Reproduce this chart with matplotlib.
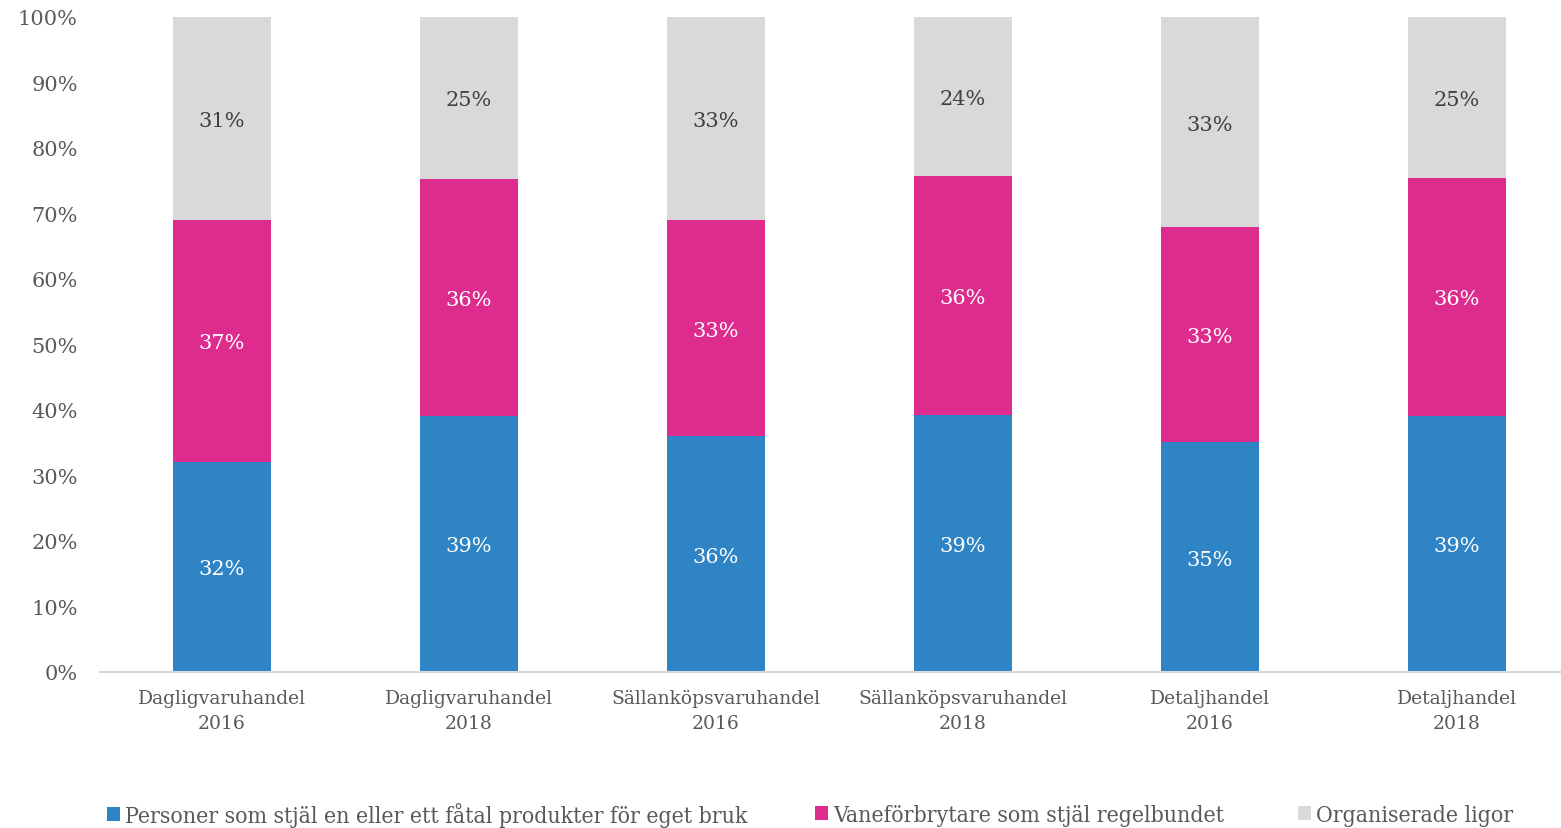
import matplotlib
matplotlib.use("Agg")
import matplotlib.pyplot as plt
from matplotlib.patches import Patch
import numpy as np

categories = ["Dagligvaruhandel\n2016", "Dagligvaruhandel\n2018", "Sällanköpsvaruhandel\n2016",
              "Sällanköpsvaruhandel\n2018", "Detaljhandel\n2016", "Detaljhandel\n2018"]
series_names = ["Personer som stjäl en eller ett fåtal produkter för eget bruk",
                "Vaneförbrytare som stjäl regelbundet",
                "Organiserade ligor"]
# segment heights as drawn (share of bar, %)
personer = [32.1, 39.1, 36.0, 39.2, 35.1, 39.1]
vane = [36.9, 36.2, 33.0, 36.5, 32.8, 36.3]
ligor = [31.0, 24.7, 31.0, 24.3, 32.1, 24.6]
# printed data labels
personer_labels = ["32%", "39%", "36%", "39%", "35%", "39%"]
vane_labels = ["37%", "36%", "33%", "36%", "33%", "36%"]
ligor_labels = ["31%", "25%", "33%", "24%", "33%", "25%"]
yticks = [0, 10, 20, 30, 40, 50, 60, 70, 80, 90, 100]

colors = ["#2E84C4", "#DE2C8E", "#D9D9D9"]
text_colors = ["white", "white", "#404040"]

font = "DejaVu Serif"
fig = plt.figure(figsize=(15.61, 8.29), dpi=100)
ax = fig.add_axes([100/1561, (829-673)/829, 1 - 100/1561, (673-18)/829])

x = np.arange(len(categories))
width = 0.4
bottom = np.zeros(len(categories))
for vals, labs, col, tcol in zip([personer, vane, ligor],
                                 [personer_labels, vane_labels, ligor_labels],
                                 colors, text_colors):
    vals = np.array(vals)
    ax.bar(x, vals, width, bottom=bottom, color=col, zorder=2)
    for xi, b, v, lab in zip(x, bottom, vals, labs):
        ax.text(xi, b + v/2 - 0.3, lab, ha="center", va="center",
                color=tcol, fontsize=15, family=font)
    bottom += vals

ax.set_xlim(-0.494, 5.421)
ax.set_ylim(0, 100)
ax.set_yticks(yticks)
ax.set_yticklabels([f"{t}%" for t in yticks], family=font, fontsize=15, color="#595959")
ax.set_xticks(x)
ax.set_xticklabels(categories, family=font, fontsize=13.5, color="#595959", linespacing=1.5)
ax.tick_params(axis="both", length=0)
ax.tick_params(axis="y", pad=16)
ax.tick_params(axis="x", pad=12)
for s in ["top", "right", "left"]:
    ax.spines[s].set_visible(False)
ax.spines["bottom"].set_color("#D9D9D9")
ax.spines["bottom"].set_linewidth(1.5)

legend_x = [107, 815, 1298]
for name, col, lx in zip(series_names, colors, legend_x):
    leg = fig.legend([Patch(facecolor=col, edgecolor="none")], [name], loc="center left",
                     bbox_to_anchor=(lx/1561, (829-816)/829),
                     frameon=False, prop={"family": font, "size": 16.5, "stretch": "condensed"},
                     handlelength=0.55, handleheight=0.55, handletextpad=0.25,
                     borderaxespad=0, borderpad=0)
    for t in leg.get_texts():
        t.set_color("#595959")

fig.savefig("out.png", dpi=100)
